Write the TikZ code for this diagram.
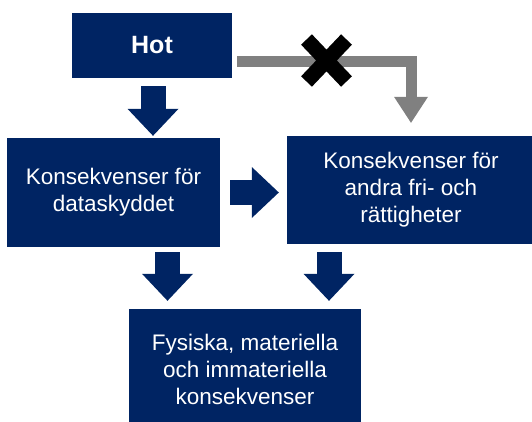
\documentclass[tikz,border=0pt]{standalone}
\usepackage{fontspec}
\setmainfont{Liberation Sans}
\usetikzlibrary{arrows.meta,positioning,calc}
\tikzset{>=Stealth}
\definecolor{boxcolor}{RGB}{0,36,99}
\definecolor{greycolor}{RGB}{128,128,128}
\tikzset{
  box/.style={fill=boxcolor, text=white, align=center, inner sep=0pt,
    font=\fontsize{22.5}{27}\selectfont},
  blockarrow/.style={draw=boxcolor, line width=25pt,
    -{Triangle[length=27pt,width=51pt,line width=0pt]}},
  greyarrow/.style={draw=greycolor, line width=11pt, line join=miter,
    -{Triangle[length=26pt,width=34pt,line width=0pt]}}
}

\begin{document}
\begin{tikzpicture}[x=1pt,y=-1pt]
\useasboundingbox (0,0) rectangle (532,421);
% boxes
\node[box, minimum width=160pt, minimum height=65pt,
  font=\fontsize{25}{27}\selectfont\bfseries] (hot) at (152,45.5) {Hot};
\node[box, minimum width=213pt, minimum height=109pt] (data) at (113.5,192.5)
  {Konsekvenser för\\dataskyddet};
\node[box, minimum width=248pt, minimum height=108pt] (rights) at (411,190)
  {Konsekvenser för\\andra fri- och\\rättigheter};
\node[box, minimum width=232pt, minimum height=121pt] (phys) at (245,369.5)
  {Fysiska, materiella\\och immateriella\\konsekvenser};
% arrows
\draw[blockarrow] ($(hot.south)+(1,8)$) -- ($(hot.south |- data.north)+(1,-2)$);
\draw[blockarrow] ($(data.east)+(10,0)$) -- ($(data.east -| rights.west)+(-8,0)$);
\draw[blockarrow] ($(data.south)+(54,5)$) -- ($(phys.north)+(-77.5,-8)$);
\draw[blockarrow] ($(rights.south)+(-82,8)$) -- ($(phys.north)+(84,-8)$);
\draw[greyarrow] ($(hot.east)+(5,15.5)$) -| ($(rights.north)+(0,-13)$);
% cross over the grey arrow
\coordinate (cross) at (326.5,60.5);
\draw[line width=15pt, black] ($(cross)+(-20,-21)$) -- ($(cross)+(20,21)$)
  ($(cross)+(-20,21)$) -- ($(cross)+(20,-21)$);
\end{tikzpicture}
\end{document}
